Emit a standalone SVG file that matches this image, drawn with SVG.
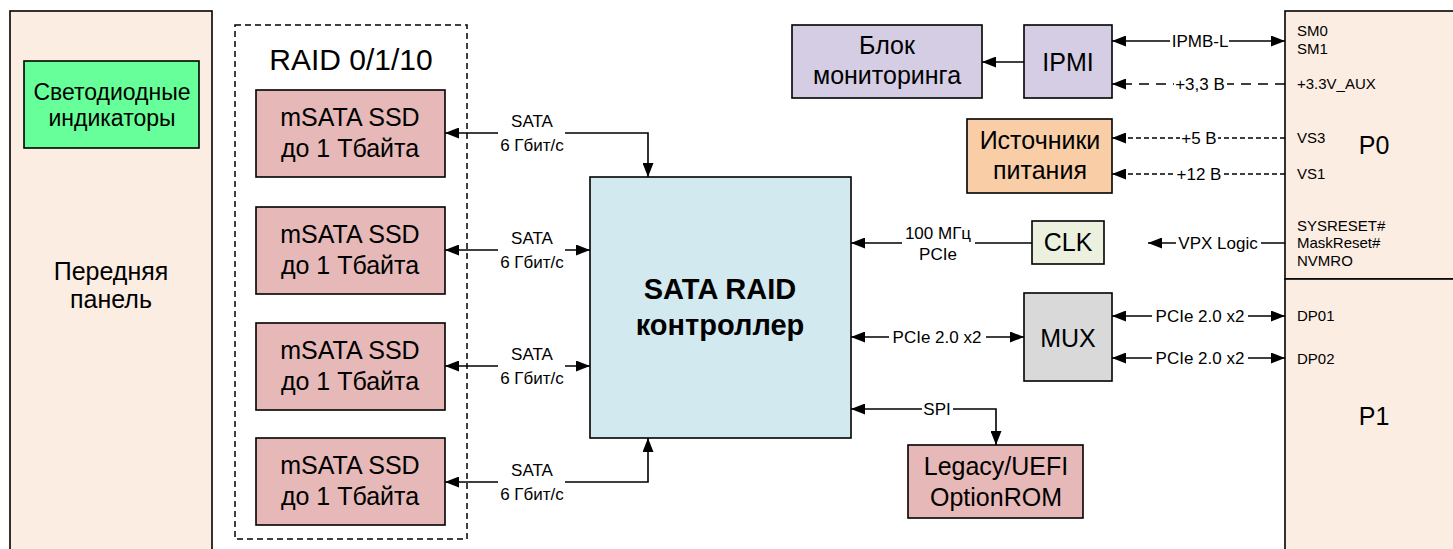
<svg xmlns="http://www.w3.org/2000/svg" width="1453" height="549" viewBox="0 0 1453 549">
<style>
text{font-family:"Liberation Sans",Arial,sans-serif;fill:#000}
.box{stroke:#000;stroke-width:1.6}
.t25{font-size:25px;text-anchor:middle}
.t23{font-size:23px;text-anchor:middle}
.lbl{font-size:17px;text-anchor:middle}
.pin{font-size:15px}
.ln{fill:none;stroke:#000;stroke-width:1.6}
.d1{stroke-dasharray:10 7}
.d2{stroke-dasharray:5 3}
.bg{fill:#fff}
</style>
<defs>
<marker id="ah" markerUnits="userSpaceOnUse" markerWidth="14" markerHeight="11" refX="14" refY="5.5" orient="auto-start-reverse">
<path d="M0,0 L14,5.5 L0,11 z" fill="#000" stroke="none"/>
</marker>
</defs>
<rect width="1453" height="549" fill="#fff"/>

<g id="front-panel">
<rect class="box" x="10" y="11" width="202" height="560" fill="#fcede3"/>
<text x="111" y="280" font-size="25" text-anchor="middle">Передняя</text>
<text x="111" y="308" font-size="25" text-anchor="middle">панель</text>
</g>
<g id="led">
<rect class="box" x="24" y="61" width="175" height="87" fill="#66ff99"/>
<text class="t23" x="112" y="100">Светодиодные</text>
<text class="t23" x="112" y="126">индикаторы</text>
</g>

<g id="raid-group">
<rect x="235" y="25" width="232" height="514" fill="none" stroke="#000" stroke-width="1.5" stroke-dasharray="6 4"/>
<text x="351" y="70" font-size="30" text-anchor="middle">RAID 0/1/10</text>
</g>
<g id="ssd1">
<rect class="box" x="256" y="90" width="189" height="87" fill="#e6b8b7"/>
<text class="t25" x="350" y="126">mSATA SSD</text>
<text class="t25" x="350" y="157">до 1 Тбайта</text>
</g>
<g id="ssd2">
<rect class="box" x="256" y="207" width="189" height="87" fill="#e6b8b7"/>
<text class="t25" x="350" y="243">mSATA SSD</text>
<text class="t25" x="350" y="274">до 1 Тбайта</text>
</g>
<g id="ssd3">
<rect class="box" x="256" y="323" width="189" height="87" fill="#e6b8b7"/>
<text class="t25" x="350" y="359">mSATA SSD</text>
<text class="t25" x="350" y="390">до 1 Тбайта</text>
</g>
<g id="ssd4">
<rect class="box" x="256" y="438" width="189" height="87" fill="#e6b8b7"/>
<text class="t25" x="350" y="474">mSATA SSD</text>
<text class="t25" x="350" y="505">до 1 Тбайта</text>
</g>

<g id="controller">
<rect class="box" x="590" y="177" width="261" height="261" fill="#d2e9ef"/>
<text x="720" y="299" font-size="29" font-weight="bold" text-anchor="middle">SATA RAID</text>
<text x="720" y="335" font-size="29" font-weight="bold" text-anchor="middle">контроллер</text>
</g>

<g id="monitor">
<rect class="box" x="792" y="25" width="190" height="73" fill="#d4cde3"/>
<text class="t25" x="887" y="54">Блок</text>
<text class="t25" x="887" y="84">мониторинга</text>
</g>
<g id="ipmi">
<rect class="box" x="1024" y="25" width="88" height="73" fill="#d4cde3"/>
<text class="t25" x="1068" y="71">IPMI</text>
</g>
<g id="power">
<rect class="box" x="967" y="119" width="145" height="74" fill="#f9cda6"/>
<text class="t25" x="1040" y="149">Источники</text>
<text class="t25" x="1040" y="179">питания</text>
</g>
<g id="clk">
<rect class="box" x="1032" y="221" width="72" height="43" fill="#ebf1de"/>
<text class="t25" x="1068" y="251">CLK</text>
</g>
<g id="mux">
<rect class="box" x="1024" y="293" width="88" height="88" fill="#d9d9d9"/>
<text class="t25" x="1068" y="347">MUX</text>
</g>
<g id="optionrom">
<rect class="box" x="908" y="445" width="175" height="73" fill="#e6b8b7"/>
<text class="t25" x="996" y="475">Legacy/UEFI</text>
<text class="t25" x="996" y="506">OptionROM</text>
</g>

<g id="p0">
<rect class="box" x="1285" y="11" width="180" height="268" fill="#fcede3"/>
<text class="pin" x="1297" y="36">SM0</text>
<text class="pin" x="1297" y="54">SM1</text>
<text class="pin" x="1297" y="89">+3.3V_AUX</text>
<text class="pin" x="1297" y="143">VS3</text>
<text class="pin" x="1297" y="179">VS1</text>
<text class="pin" x="1297" y="231">SYSRESET#</text>
<text class="pin" x="1297" y="248">MaskReset#</text>
<text class="pin" x="1297" y="266">NVMRO</text>
<text x="1374" y="154" font-size="25" text-anchor="middle">P0</text>
</g>
<g id="p1">
<rect class="box" x="1285" y="279" width="180" height="290" fill="#fcede3"/>
<text class="pin" x="1297" y="321">DP01</text>
<text class="pin" x="1297" y="364">DP02</text>
<text x="1374" y="425" font-size="25" text-anchor="middle">P1</text>
</g>

<g id="connectors">
<path class="ln" d="M445,133 H648 V177" marker-start="url(#ah)" marker-end="url(#ah)"/>
<path class="ln" d="M445,250 H590" marker-start="url(#ah)" marker-end="url(#ah)"/>
<path class="ln" d="M445,366 H590" marker-start="url(#ah)" marker-end="url(#ah)"/>
<path class="ln" d="M445,482 H648 V438" marker-start="url(#ah)" marker-end="url(#ah)"/>
<path class="ln" d="M1024,62 H982" marker-end="url(#ah)"/>
<path class="ln" d="M1112,41 H1285" marker-start="url(#ah)" marker-end="url(#ah)"/>
<path class="ln d1" d="M1285,84 H1112" marker-end="url(#ah)"/>
<path class="ln d2" d="M1285,138 H1112" marker-end="url(#ah)"/>
<path class="ln d2" d="M1285,174 H1112" marker-end="url(#ah)"/>
<path class="ln" d="M1285,243 H1148" marker-end="url(#ah)"/>
<path class="ln" d="M1032,243 H851" marker-end="url(#ah)"/>
<path class="ln" d="M851,337 H1024" marker-start="url(#ah)" marker-end="url(#ah)"/>
<path class="ln" d="M1112,316 H1285" marker-start="url(#ah)" marker-end="url(#ah)"/>
<path class="ln" d="M1112,358 H1285" marker-start="url(#ah)" marker-end="url(#ah)"/>
<path class="ln" d="M851,409 H996 V445" marker-start="url(#ah)" marker-end="url(#ah)"/>

<rect class="bg" x="498" y="129" width="67" height="8"/>
<rect class="bg" x="498" y="246" width="67" height="8"/>
<rect class="bg" x="498" y="362" width="67" height="8"/>
<rect class="bg" x="498" y="478" width="67" height="8"/>
<text class="lbl" x="532" y="127">SATA</text>
<text class="lbl" x="532" y="151">6 Гбит/с</text>
<text class="lbl" x="532" y="244">SATA</text>
<text class="lbl" x="532" y="268">6 Гбит/с</text>
<text class="lbl" x="532" y="360">SATA</text>
<text class="lbl" x="532" y="384">6 Гбит/с</text>
<text class="lbl" x="532" y="476">SATA</text>
<text class="lbl" x="532" y="500">6 Гбит/с</text>

<rect class="bg" x="902" y="239" width="73" height="8"/>
<text class="lbl" x="938" y="239">100 МГц</text>
<text class="lbl" x="938" y="260">PCIe</text>

<rect class="bg" x="889" y="333" width="97" height="8"/>
<text class="lbl" x="937" y="343">PCIe 2.0 x2</text>

<rect class="bg" x="922" y="405" width="31" height="8"/>
<text class="lbl" x="937" y="415">SPI</text>

<rect class="bg" x="1170" y="37" width="59" height="8"/>
<text class="lbl" x="1200" y="47">IPMB-L</text>
<rect class="bg" x="1174" y="80" width="53" height="8"/>
<text class="lbl" x="1200" y="90">+3,3 В</text>
<rect class="bg" x="1180" y="134" width="38" height="8"/>
<text class="lbl" x="1199" y="144">+5 В</text>
<rect class="bg" x="1175" y="170" width="48" height="8"/>
<text class="lbl" x="1199" y="180">+12 В</text>
<rect class="bg" x="1176" y="239" width="85" height="8"/>
<text class="lbl" x="1218" y="249">VPX Logic</text>
<rect class="bg" x="1152" y="312" width="96" height="8"/>
<text class="lbl" x="1200" y="322">PCIe 2.0 x2</text>
<rect class="bg" x="1152" y="354" width="96" height="8"/>
<text class="lbl" x="1200" y="364">PCIe 2.0 x2</text>
</g>
</svg>
